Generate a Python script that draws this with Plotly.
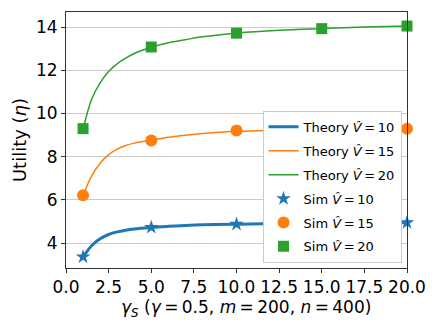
import plotly.graph_objects as go

# Theory curves
theory_x = [1, 1.5, 2, 2.5, 3, 3.5, 4, 5, 6, 7, 8, 10, 12.5, 15, 17.5, 20]
theory_v10 = [3.35, 3.88, 4.20, 4.40, 4.52, 4.60, 4.66, 4.73, 4.78, 4.82, 4.85, 4.88, 4.91, 4.93, 4.94, 4.95]
theory_v15 = [6.20, 7.10, 7.70, 8.10, 8.35, 8.52, 8.63, 8.76, 8.90, 9.00, 9.08, 9.18, 9.23, 9.27, 9.29, 9.30]
theory_v20 = [9.28, 10.65, 11.42, 11.95, 12.30, 12.56, 12.78, 13.07, 13.28, 13.42, 13.55, 13.72, 13.85, 13.93, 14.00, 14.05]

# Simulation points
sim_x = [1, 5, 10, 15, 20]
sim_v10 = [3.37, 4.73, 4.88, 4.93, 4.95]
sim_v15 = [6.22, 8.75, 9.22, 9.27, 9.30]
sim_v20 = [9.30, 13.08, 13.72, 13.93, 14.05]

x_tick_vals = [0, 2.5, 5, 7.5, 10, 12.5, 15, 17.5, 20]
x_tick_text = ["0.0", "2.5", "5.0", "7.5", "10.0", "12.5", "15.0", "17.5", "20.0"]
y_tick_vals = [4, 6, 8, 10, 12, 14]

BLUE, ORANGE, GREEN = "#1f77b4", "#ff7f0e", "#2ca02c"
hat = "<i>V\u0302</i>"
eq = "\u2009=\u2009"

fig = go.Figure()
fig.add_trace(go.Scatter(x=theory_x, y=theory_v10, mode="lines", line=dict(color=BLUE, width=3, shape="spline"),
                         name=f"Theory {hat}{eq}10", legendgroup="a"))
fig.add_trace(go.Scatter(x=theory_x, y=theory_v15, mode="lines", line=dict(color=ORANGE, width=1.5, shape="spline"),
                         name=f"Theory {hat}{eq}15", legendgroup="b"))
fig.add_trace(go.Scatter(x=theory_x, y=theory_v20, mode="lines", line=dict(color=GREEN, width=1.5, shape="spline"),
                         name=f"Theory {hat}{eq}20", legendgroup="c"))
fig.add_trace(go.Scatter(x=sim_x, y=sim_v10, mode="markers", marker=dict(color=BLUE, symbol="star", size=11, line=dict(width=0)),
                         name=f"Sim {hat}{eq}10", cliponaxis=False, legendgroup="d"))
fig.add_trace(go.Scatter(x=sim_x, y=sim_v15, mode="markers", marker=dict(color=ORANGE, symbol="circle", size=12, line=dict(width=0)),
                         name=f"Sim {hat}{eq}15", cliponaxis=False, legendgroup="e"))
fig.add_trace(go.Scatter(x=sim_x, y=sim_v20, mode="markers", marker=dict(color=GREEN, symbol="square", size=11, line=dict(width=0)),
                         name=f"Sim {hat}{eq}20", cliponaxis=False, legendgroup="f"))

axis_common = dict(showline=True, linecolor="#333333", linewidth=1, mirror=True, ticks="outside", ticklen=4,
                   tickcolor="#333333", tickfont=dict(size=17, color="black"), zeroline=False, automargin=False)

fig.update_layout(
    width=440, height=330,
    # page body has an 8px margin, so the plot area is shifted by it
    margin=dict(l=58, r=41, t=4, b=70),
    paper_bgcolor="white", plot_bgcolor="white",
    font=dict(family="DejaVu Sans", size=13, color="black"),
    xaxis=dict(range=[0, 20], tickvals=x_tick_vals, ticktext=x_tick_text, showgrid=False, **axis_common),
    yaxis=dict(range=[2.85, 14.7], tickvals=y_tick_vals, showgrid=True, gridcolor="#cccccc", gridwidth=1,
               title=dict(text="Utility (<i>η</i>)", font=dict(size=18), standoff=4),
               **axis_common),
    legend=dict(x=0.984, y=0.02, xanchor="right", yanchor="bottom", bgcolor="white",
                bordercolor="#cccccc", borderwidth=1, font=dict(size=13), tracegroupgap=4),
)
fig.add_annotation(text=f"<i>γ<sub>S</sub></i> (<i>γ</i>{eq}0.5, <i>m</i>{eq}200, <i>n</i>{eq}400)",
                   xref="paper", yref="paper", x=0.528, y=-0.105, xanchor="center", yanchor="top",
                   showarrow=False, font=dict(size=17))

fig.write_html("out.html")
